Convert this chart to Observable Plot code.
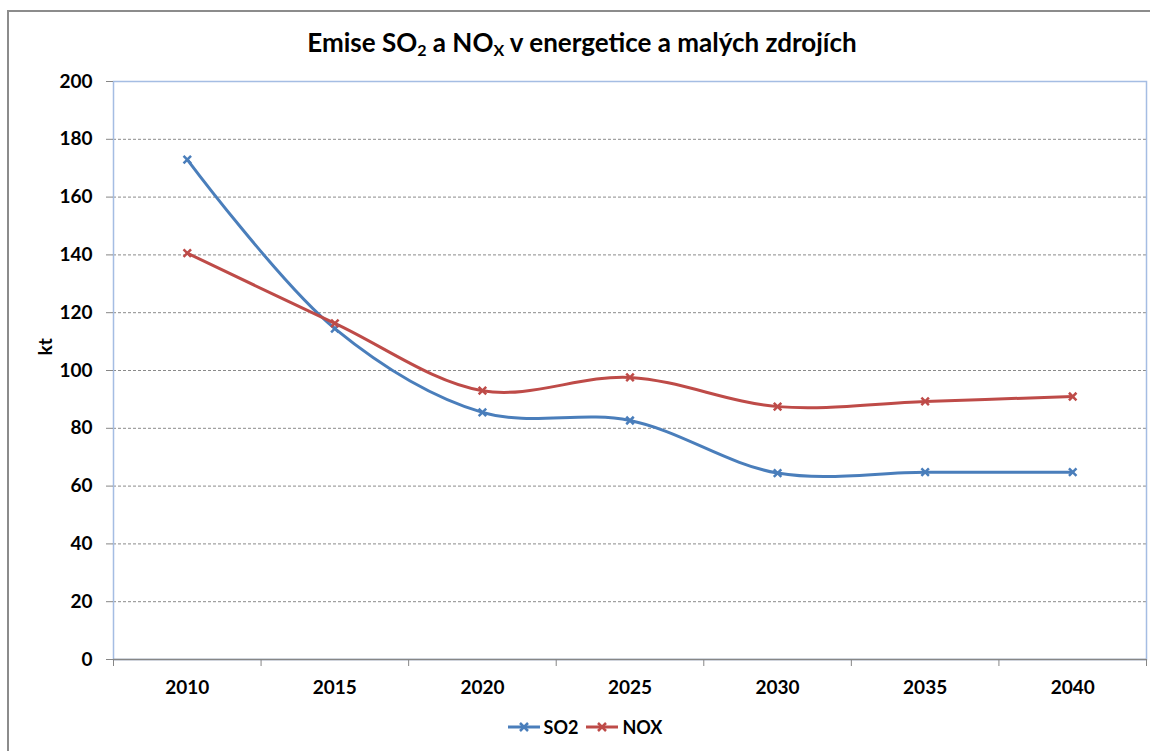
<!DOCTYPE html>
<html><head><meta charset="utf-8">
<script src="https://cdn.jsdelivr.net/npm/d3@7"></script>
<script src="https://cdn.jsdelivr.net/npm/@observablehq/plot@0.6"></script>
<style>
body{margin:0;background:#fff;font-family:Lato,"Open Sans",sans-serif;}
#wrap{position:relative;width:1150px;height:751px;overflow:hidden;background:#fff;}
#border{position:absolute;left:7px;top:10px;width:1300px;height:900px;border-left:2px solid #8c8c8c;border-top:2px solid #8c8c8c;}
#title{position:absolute;left:0;top:26px;width:1164px;text-align:center;font-weight:700;font-size:26px;color:#000;line-height:32px;}
#title sub{font-size:16px;vertical-align:-4px;line-height:0;}
#chart{position:absolute;left:0;top:0;}
#legend{position:absolute;left:0;top:716px;width:1170px;display:flex;justify-content:center;align-items:center;font-weight:700;font-size:18px;}
#legend .item{display:flex;align-items:center;margin:0 4px;}
#legend svg{margin-right:4px;}
</style></head>
<body>
<div id="wrap">
<div id="border"></div>
<div id="chart"></div>
<div id="title">Emise SO<sub>2</sub> a NO<sub>X</sub> v energetice a malých zdrojích</div>
<div id="legend"></div>
</div>
<script>
const years = [2010, 2015, 2020, 2025, 2030, 2035, 2040];
const so2 = [173, 114.5, 85.5, 82.7, 64.5, 64.8, 64.8];
const nox = [140.6, 116.3, 93, 97.6, 87.5, 89.3, 91];
const seriesNames = ["SO2", "NOX"];
const seriesColors = ["#4a7ebb", "#be4b48"];
const yTicks = [0, 20, 40, 60, 80, 100, 120, 140, 160, 180, 200];
const yLabel = "kt";

const data = [
  ...years.map((year, i) => ({year, value: so2[i], series: "SO2"})),
  ...years.map((year, i) => ({year, value: nox[i], series: "NOX"}))
];
const step = years[1] - years[0];
const edges = [...years.map(y => y - step / 2), years[years.length - 1] + step / 2];

const chart = Plot.plot({
  width: 1150,
  height: 751,
  marginLeft: 113,
  marginRight: 4,
  marginTop: 81,
  marginBottom: 92,
  style: {background: "transparent", fontFamily: "Lato, 'Open Sans', sans-serif", color: "#000"},
  x: {type: "linear", domain: [edges[0], edges[edges.length - 1]]},
  y: {domain: [0, 200]},
  color: {domain: seriesNames, range: seriesColors},
  marks: [
    Plot.gridY(yTicks.filter(t => t > 0 && t < 200), {stroke: "#8a8a8a", strokeOpacity: 1, strokeDasharray: "3,2"}),
    Plot.frame({stroke: "#a5bde3", strokeWidth: 1.5}),
    Plot.ruleY([0], {stroke: "#868686", strokeWidth: 1.5}),
    Plot.axisY({ticks: yTicks, tickSize: 7, tickPadding: 14, fontSize: 19, fontWeight: 700, stroke: "#868686", fill: "#000", label: null}),
    Plot.axisX({ticks: edges, tickSize: 7, tickFormat: () => "", stroke: "#868686", label: null}),
    Plot.axisX({ticks: years, tickSize: 0, tickPadding: 21, tickFormat: d => String(d), fontSize: 19, fontWeight: 700, fill: "#000", label: null}),
    Plot.text([yLabel], {frameAnchor: "left", dx: -68, dy: -15, rotate: -90, fontSize: 19, fontWeight: 700, fill: "#000"}),
    Plot.line(data, {x: "year", y: "value", z: "series", stroke: "series", curve: "catmull-rom", strokeWidth: 3}),
    Plot.dot(data, {x: "year", y: "value", stroke: "series", symbol: "times", r: 3.5, strokeWidth: 2.5})
  ]
});
document.getElementById("chart").appendChild(chart);

const legend = document.getElementById("legend");
seriesNames.forEach((name, i) => {
  const item = document.createElement("div");
  item.className = "item";
  const c = seriesColors[i];
  item.innerHTML = `<svg width="32" height="12"><line x1="0" y1="6" x2="32" y2="6" stroke="${c}" stroke-width="3"/><path d="M12,2L20,10M20,2L12,10" stroke="${c}" stroke-width="2.5"/></svg><span>${name}</span>`;
  legend.appendChild(item);
});
</script>
</body></html>
